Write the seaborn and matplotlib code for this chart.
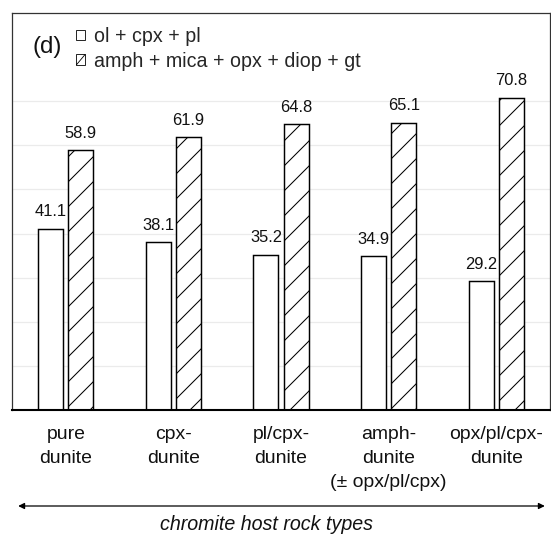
"""
Chromite host rock types: mineral assemblage proportions (panel d).
Grouped bars, open vs. hatched, rendered with seaborn.
"""

import numpy as np
import pandas as pd
import matplotlib
matplotlib.use("Agg")
import matplotlib.pyplot as plt
from matplotlib.patches import Patch, Rectangle
from matplotlib.lines import Line2D
from matplotlib.legend_handler import HandlerBase
import seaborn as sns

# ── Data ──────────────────────────────────────────────────────────────────────

ROCK_TYPES = [
    "pure\ndunite",
    "cpx-\ndunite",
    "pl/cpx-\ndunite",
    "amph-\ndunite\n(± opx/pl/cpx)",
    "opx/pl/cpx-\ndunite",
]
SERIES = ["ol + cpx + pl", "amph + mica + opx + diop + gt"]
OL_CPX_PL = [41.1, 38.1, 35.2, 34.9, 29.2]
AMPH_MICA = [58.9, 61.9, 64.8, 65.1, 70.8]
GRID_TICKS = [10, 20, 30, 40, 50, 60, 70]

DPI = 150
W_PX, H_PX = 551, 542


def build_frame():
    return pd.DataFrame({
        "rock": ROCK_TYPES * 2,
        "series": [SERIES[0]] * len(ROCK_TYPES) + [SERIES[1]] * len(ROCK_TYPES),
        "value": OL_CPX_PL + AMPH_MICA,
    })


class SquareHandler(HandlerBase):
    """Small open square, optionally with one rising diagonal (like ⧄)."""

    def __init__(self, slash=False):
        super().__init__()
        self.slash = slash

    def create_artists(self, legend, orig_handle, xdescent, ydescent,
                       width, height, fontsize, trans):
        x0, y0 = -xdescent, -ydescent
        arts = [Rectangle((x0, y0), width, height, facecolor="white",
                          edgecolor="black", linewidth=0.4, transform=trans)]
        if self.slash:
            arts.append(Line2D([x0, x0 + width], [y0, y0 + height],
                               color="black", linewidth=0.4, transform=trans))
        return arts


# ── Plot ──────────────────────────────────────────────────────────────────────

def plot():
    sns.set_style("white")
    plt.rcParams["font.family"] = ["Liberation Sans", "DejaVu Sans"]
    plt.rcParams["hatch.linewidth"] = 0.5
    plt.rcParams["hatch.color"] = "black"

    fig = plt.figure(figsize=(W_PX / DPI, H_PX / DPI), dpi=DPI)
    ax = fig.add_axes([12 / W_PX, 1 - 410 / H_PX, 538 / W_PX, 397 / H_PX])

    df = build_frame()
    sns.barplot(
        data=df, x="rock", y="value", hue="series",
        palette=["white", "white"], edgecolor="black", linewidth=0.7,
        width=0.56, gap=0.17, saturation=1, legend=False, ax=ax,
    )

    for bar in ax.containers[1]:
        bar.set_hatch("//")
    for cont in ax.containers:
        ax.bar_label(cont, fmt="%.1f", padding=4.5, fontsize=7.9, color="#111111")

    ax.set_xlim(-0.5, 4.5)
    ax.set_ylim(0, 90)
    ax.set_yticks(GRID_TICKS)
    ax.set_yticklabels([])
    ax.yaxis.grid(True, color="#ebebeb", linewidth=0.6)
    ax.set_axisbelow(True)
    ax.set_xticks(range(len(ROCK_TYPES)))
    ax.set_xticklabels(ROCK_TYPES, linespacing=1.55)
    ax.tick_params(axis="both", length=0)
    ax.tick_params(axis="x", pad=7.5, labelsize=9.3, colors="#111111")
    ax.set_xlabel("")
    ax.set_ylabel("")

    for side in ["left", "right", "top"]:
        ax.spines[side].set_color("#333333")
        ax.spines[side].set_linewidth(0.6)
    ax.spines["bottom"].set_color("black")
    ax.spines["bottom"].set_linewidth(1.0)

    h_open = Patch(facecolor="white", edgecolor="black")
    h_hatch = Patch(facecolor="white", edgecolor="black", hatch="/")
    ax.legend(
        [h_open, h_hatch], SERIES, loc="upper left",
        bbox_to_anchor=(0.105, 0.985), frameon=False, fontsize=9.4,
        handlelength=0.45, handleheight=0.45, handletextpad=0.45,
        labelspacing=0.3, borderaxespad=0,
        handler_map={h_open: SquareHandler(False), h_hatch: SquareHandler(True)},
    )
    ax.text(0.038, 0.915, "(d)", transform=ax.transAxes, fontsize=11.5,
            ha="left", va="center", color="#111111")

    # double-headed arrow + caption under the tick labels
    ax.annotate(
        "", xy=(549 / W_PX, 1 - 506 / H_PX), xytext=(14 / W_PX, 1 - 506 / H_PX),
        xycoords="figure fraction", textcoords="figure fraction",
        arrowprops=dict(arrowstyle="<|-|>", color="black", lw=0.6,
                        mutation_scale=6),
    )
    fig.text(267 / W_PX, 1 - 525 / H_PX, "chromite host rock types",
             ha="center", va="center", fontsize=9.4, style="italic",
             color="#111111")

    fig.savefig("out.png", dpi=DPI)


if __name__ == "__main__":
    plot()
